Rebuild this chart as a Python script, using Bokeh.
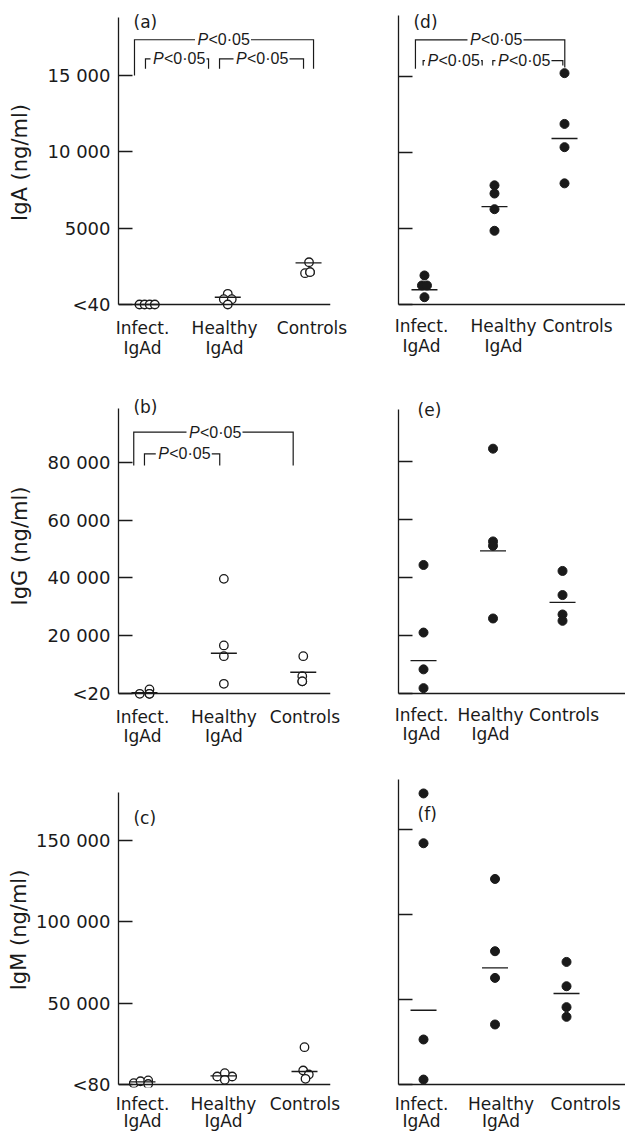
from bokeh.plotting import figure
from bokeh.models import Range1d, FixedTicker, Label, LinearAxis
from bokeh.layouts import row, column
from bokeh.embed import file_html
from bokeh.resources import INLINE

# ---------------- data ----------------
groups = ["Infect.\nIgAd", "Healthy\nIgAd", "Controls"]

# (a) IgA, open symbols
iga_open_infect = [0, 0, 0, 0]
iga_open_healthy = [700, 350, 350, 0]
iga_open_controls = [2770, 2050, 2120, 2120]
iga_open_means = [0, 480, 2730]
# (d) IgA, filled symbols
iga_fill_infect = [1910, 1250, 1250, 480]
iga_fill_healthy = [7840, 7300, 6270, 4850]
iga_fill_controls = [15220, 11880, 10350, 7970]
iga_fill_means = [970, 6440, 10920]
# (b) IgG, open symbols
igg_open_infect = [0, 1500, 0, 0]
igg_open_healthy = [39700, 16700, 13000, 3450]
igg_open_controls = [13000, 6100, 4300, 4300]
igg_open_means = [400, 14000, 7460]
# (e) IgG, filled symbols
igg_fill_infect = [44300, 21060, 8400, 1950]
igg_fill_healthy = [84300, 52400, 50900, 25900]
igg_fill_controls = [42250, 33960, 27280, 25100]
igg_fill_means = [11400, 49150, 31430]
# (c) IgM, open symbols
igm_open_infect = [800, 2000, 2500, 300]
igm_open_healthy = [4900, 4900, 6950, 2900]
igm_open_controls = [22900, 8600, 6140, 3500]
igm_open_means = [1600, 5300, 8000]
# (f) IgM, filled symbols
igm_fill_infect = [171200, 141900, 26470, 2900]
igm_fill_healthy = [120900, 78400, 62700, 35300]
igm_fill_controls = [72100, 57800, 45500, 39800]
igm_fill_means = [43700, 68600, 53500]

iga_ticks = [0, 5000, 10000, 15000]
iga_tick_labels = ["<40", "5000", "10 000", "15 000"]
igg_ticks = [0, 20000, 40000, 60000, 80000]
igg_tick_labels = ["<20", "20 000", "40 000", "60 000", "80 000"]
igm_ticks = [0, 50000, 100000, 150000]
igm_tick_labels = ["<80", "50 000", "100 000", "150 000"]

p_text = "<0\u00b705"

# ---------------- layout / style ----------------
INK = "#1a1a1a"
FONT = "DejaVu Sans"
PFONT = "Liberation Sans"
Z4 = [0, 0, 0, 0]

panels = {
    "a": dict(values=[iga_open_infect, iga_open_healthy, iga_open_controls], means=iga_open_means,
              filled=False, ticks=iga_ticks, labels=iga_tick_labels, ylabel="IgA (ng/ml)",
              xr=(-0.353, 2.272), yr=(-655, 19266), ytop=18807,
              w=348, h=378, bl=118, br=18, bb=64,
              xlab=[-0.056, 0.96, 2.043], xstand=3, lh=1.0, ylstand=13,
              dodge=[[-7.5, -2.4, 2.7, 7.8], [0, -4, 4, 0], [0.5, -3.5, 1.5, 1.5]],
              letter=("(a)", -0.167, 19135),
              brackets=[(-0.155, 2.062, 17350, 15000, 15450, 0.941),
                        (-0.019, 0.762, 16100, 15450, 15450, 0.39),
                        (0.898, 1.938, 16100, 15450, 15450, 1.418)]),
    "d": dict(values=[iga_fill_infect, iga_fill_healthy, iga_fill_controls], means=iga_fill_means,
              filled=True, ticks=iga_ticks, labels=None, ylabel=None,
              xr=(-0.371, 2.871), yr=(-658, 19342), ytop=19013,
              w=277, h=378, bl=50, br=0, bb=64,
              xlab=[-0.043, 1.129, 2.186], xstand=1, lh=1.0, ylstand=0,
              dodge=[[0, -2.5, 2.5, 0], Z4, Z4],
              letter=("(d)", -0.157, 19211),
              brackets=[(-0.129, 2.004, 17415, 15510, 15600, 1.014),
                        (-0.019, 0.824, 16050, 15720, 15720, 0.407),
                        (0.976, 1.976, 16050, 15720, 15720, 1.414)]),
    "b": dict(values=[igg_open_infect, igg_open_healthy, igg_open_controls], means=igg_open_means,
              filled=False, ticks=igg_ticks, labels=igg_tick_labels, ylabel="IgG (ng/ml)",
              xr=(-0.327, 2.343), yr=(-3350, 105450), ytop=98543,
              w=348, h=384, bl=118, br=18, bb=59,
              xlab=[-0.025, 1.001, 2.021], xstand=3, lh=0.95, ylstand=13,
              dodge=[[-4.7, 5, 5, 5], Z4, [0, -1, -1, -1]],
              letter=("(b)", -0.139, 102342),
              brackets=[(-0.135, 1.873, 90360, 78860, 78860, 0.882),
                        (0.0, 0.948, 82900, 78860, 78860, 0.495)]),
    "e": dict(values=[igg_fill_infect, igg_fill_healthy, igg_fill_controls], means=igg_fill_means,
              filled=True, ticks=igg_ticks, labels=None, ylabel=None,
              xr=(-0.360, 2.906), yr=(-3336, 104993), ytop=97771,
              w=277, h=384, bl=50, br=0, bb=59,
              xlab=[-0.029, 0.964, 2.022], xstand=1, lh=0.95, ylstand=0,
              dodge=[Z4, Z4, Z4],
              letter=("(e)", -0.086, 101210),
              brackets=[]),
    "c": dict(values=[igm_open_infect, igm_open_healthy, igm_open_controls], means=igm_open_means,
              filled=False, ticks=igm_ticks, labels=igm_tick_labels, ylabel="IgM (ng/ml)",
              xr=(-0.296, 2.321), yr=(-1843, 191662), ytop=179376,
              w=348, h=371, bl=118, br=18, bb=46,
              xlab=[0.0, 1.0, 2.006], xstand=6, lh=0.85, ylstand=2,
              dodge=[[-8.7, -2, 5.7, 5.7], [-6.3, 8.7, 1.3, 1.3], [0, -1.3, 4.3, 1]],
              letter=("(c)", -0.111, 170160),
              brackets=[]),
    "f": dict(values=[igm_fill_infect, igm_fill_healthy, igm_fill_controls], means=igm_fill_means,
              filled=True, ticks=igm_ticks, labels=None, ylabel=None,
              xr=(-0.350, 2.825), yr=(-1765, 183518), ytop=179401,
              w=277, h=371, bl=50, br=0, bb=46,
              xlab=[-0.028, 1.084, 2.266], xstand=6, lh=0.85, ylstand=0,
              dodge=[Z4, Z4, Z4],
              letter=("(f)", -0.084, 164700),
              brackets=[]),
}


def build(cfg):
    p = figure(width=cfg["w"], height=cfg["h"], x_range=Range1d(*cfg["xr"]),
               y_range=Range1d(*cfg["yr"]), output_backend="svg", toolbar_location=None,
               title=None, min_border_left=cfg["bl"], min_border_right=cfg["br"],
               min_border_top=10, min_border_bottom=cfg["bb"])
    p.outline_line_color = None
    p.xgrid.visible = False
    p.ygrid.visible = False
    p.background_fill_color = "white"
    p.border_fill_color = "white"

    fw = cfg["w"] - cfg["bl"] - cfg["br"]
    sp = fw / (cfg["xr"][1] - cfg["xr"][0])  # px per category unit

    # points
    xs, ys = [], []
    for i, (vals, dd) in enumerate(zip(cfg["values"], cfg["dodge"])):
        for v, d in zip(vals, dd):
            xs.append(i + d / sp)
            ys.append(v)
    if cfg["filled"]:
        p.scatter(xs, ys, marker="circle", size=9, fill_color=INK, line_color=INK, line_width=1)
    else:
        p.scatter(xs, ys, marker="circle", size=8.5, fill_color="white", line_color=INK,
                  line_width=1.3)
    # mean lines
    p.scatter(list(range(len(groups))), cfg["means"], marker="dash", size=26,
              line_color=INK, line_width=1.4)

    # y axis
    ya = p.yaxis[0]
    ya.ticker = FixedTicker(ticks=cfg["ticks"])
    if cfg["labels"] is not None:
        ya.major_label_overrides = {t: s for t, s in zip(cfg["ticks"], cfg["labels"])}
    else:
        ya.major_label_overrides = {t: "" for t in cfg["ticks"]}
    ya.bounds = (0, cfg["ytop"])
    ya.major_tick_in = 14
    ya.major_tick_out = 0
    ya.minor_tick_in = 0
    ya.minor_tick_out = 0
    ya.axis_line_color = INK
    ya.axis_line_width = 1.3
    ya.major_tick_line_color = INK
    ya.major_tick_line_width = 1.3
    ya.major_label_standoff = 8
    ya.major_label_text_font = FONT
    ya.major_label_text_font_size = "18px"
    ya.major_label_text_color = INK
    if cfg["ylabel"]:
        ya.axis_label = cfg["ylabel"]
        ya.axis_label_text_font = FONT
        ya.axis_label_text_font_size = "21px"
        ya.axis_label_text_font_style = "normal"
        ya.axis_label_text_color = INK
        ya.axis_label_standoff = cfg["ylstand"]

    # x axis: category labels (at frame bottom, no line)
    xa = p.xaxis[0]
    xa.ticker = FixedTicker(ticks=cfg["xlab"])
    xa.major_label_overrides = {t: s for t, s in zip(cfg["xlab"], groups)}
    xa.major_tick_in = 0
    xa.major_tick_out = 0
    xa.minor_tick_in = 0
    xa.minor_tick_out = 0
    xa.axis_line_color = None
    xa.major_label_standoff = cfg["xstand"]
    xa.major_label_text_font = FONT
    xa.major_label_text_font_size = "17px"
    xa.major_label_text_color = INK
    xa.major_label_text_line_height = cfg["lh"]

    # x axis line at the lowest value (placed at y = 0 inside the frame)
    base = LinearAxis(fixed_location=0, ticker=FixedTicker(ticks=[]), major_tick_in=0,
                      major_tick_out=0, minor_tick_in=0, minor_tick_out=0,
                      major_label_standoff=0, axis_line_color=INK, axis_line_width=1.3)
    p.add_layout(base, "above")

    # panel letter
    txt, lx, ly = cfg["letter"]
    p.add_layout(Label(x=lx, y=ly, text=txt, text_font=FONT, text_font_size="17px",
                       text_color=INK, text_align="left", text_baseline="top"))

    # significance brackets
    gap = 28 / sp
    for (x0, x1, top, yl, yr, tx) in cfg["brackets"]:
        p.multi_line([[x0, x0, tx - gap], [tx + gap, x1, x1]],
                     [[yl, top, top], [top, top, yr]],
                     line_color=INK, line_width=1.2, line_join="miter")
        p.add_layout(Label(x=tx, y=top, text="P", text_font=PFONT, text_font_size="16px",
                           text_font_style="italic", text_color=INK, text_align="left",
                           text_baseline="middle", x_offset=-25.5))
        p.add_layout(Label(x=tx, y=top, text=p_text, text_font=PFONT, text_font_size="16px",
                           text_color=INK, text_align="left", text_baseline="middle",
                           x_offset=-14.5))
    return p


figs = {k: build(v) for k, v in panels.items()}
layout = column(row(figs["a"], figs["d"]), row(figs["b"], figs["e"]), row(figs["c"], figs["f"]))

open("out.html", "w").write(file_html(layout, INLINE))
